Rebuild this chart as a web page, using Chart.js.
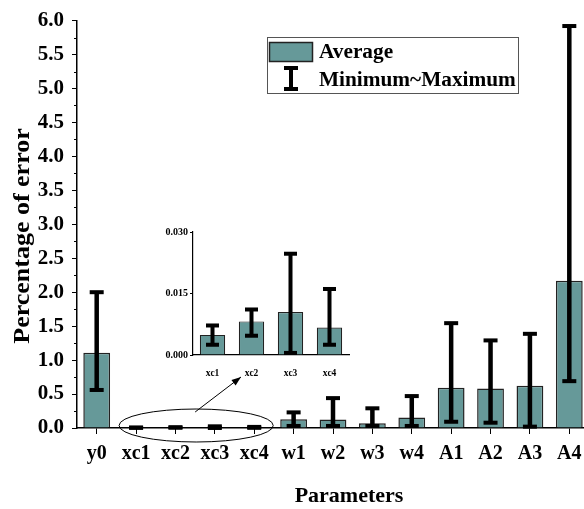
<!DOCTYPE html>
<html>
<head>
<meta charset="utf-8">
<script src="https://cdn.jsdelivr.net/npm/chart.js@4.4.1/dist/chart.umd.min.js"></script>
<style>
    html, body { margin: 0; padding: 0; background: #fff; }
    #wrap { position: relative; width: 584px; height: 509px; overflow: hidden; }
    #mainChart { position: absolute; left: 0; top: 0; }
    #insetChart { position: absolute; left: 150px; top: 220px; }
</style>
</head>
<body>
<div id="wrap">
    <canvas id="mainChart" width="600" height="509"></canvas>
    <canvas id="insetChart" width="210" height="160"></canvas>
</div>
<script>
// ============== DATA ==============
const categories = ['y0', 'xc1', 'xc2', 'xc3', 'xc4', 'w1', 'w2', 'w3', 'w4', 'A1', 'A2', 'A3', 'A4'];
const average = [1.11, 0.0049, 0.0082, 0.0105, 0.0067, 0.13, 0.125, 0.07, 0.155, 0.593, 0.583, 0.622, 2.167];
const minimum = [0.56, 0.0025, 0.0047, 0.0005, 0.0025, 0.03, 0.03, 0.03, 0.03, 0.092, 0.078, 0.02, 0.69];
const maximum = [2.0, 0.0072, 0.0111, 0.0247, 0.0161, 0.23, 0.44, 0.29, 0.47, 1.544, 1.29, 1.387, 5.92];

const yTicks = [0, 0.5, 1, 1.5, 2, 2.5, 3, 3.5, 4, 4.5, 5, 5.5, 6];

// zoomed-in part of the chart
const insetCategories = ['xc1', 'xc2', 'xc3', 'xc4'];
const insetTicks = [0, 0.015, 0.03];

const barColor = '#669999';
const serif = '"Liberation Serif", "Times New Roman", serif';

// Error bars (min ~ max) drawn through the scales
function errorBarPlugin(mins, maxs, opts) {
    return {
        id: 'errorBars',
        afterDatasetsDraw(chart) {
            const ctx = chart.ctx;
            const xs = chart.scales.x, ys = chart.scales.y;
            ctx.save();
            ctx.fillStyle = '#000';
            mins.forEach((lo, i) => {
                const x = xs.getPixelForValue(i);
                const yLo = ys.getPixelForValue(lo);
                const yHi = ys.getPixelForValue(maxs[i]);
                ctx.fillRect(x - opts.line / 2, yHi, opts.line, yLo - yHi);
                ctx.fillRect(x - opts.cap / 2, yHi - opts.capH / 2, opts.cap, opts.capH);
                ctx.fillRect(x - opts.cap / 2, yLo - opts.capH / 2, opts.cap, opts.capH);
            });
            ctx.restore();
        }
    };
}

// Minor ticks on the left axis
const minorTicks = {
    id: 'minorTicks',
    afterDraw(chart) {
        const ctx = chart.ctx;
        const ys = chart.scales.y;
        const left = chart.chartArea.left;
        ctx.save();
        ctx.strokeStyle = '#000';
        ctx.lineWidth = 1;
        for (let k = 0; k < yTicks.length - 1; k++) {
            const y = Math.round(ys.getPixelForValue((yTicks[k] + yTicks[k + 1]) / 2)) + 0.5;
            ctx.beginPath();
            ctx.moveTo(left - 3, y);
            ctx.lineTo(left, y);
            ctx.stroke();
        }
        ctx.restore();
    }
};

// stretched text, like the original figure's fonts
function wideText(ctx, text, x, y, stretch) {
    ctx.save();
    ctx.translate(x, y);
    ctx.scale(stretch, 1);
    ctx.fillText(text, 0, 0);
    ctx.restore();
}

// Legend, ellipse around xc bars, arrow and axis titles
const decorations = {
    id: 'decorations',
    afterDraw(chart) {
        const ctx = chart.ctx;
        const xs = chart.scales.x, ys = chart.scales.y;
        ctx.save();

        // legend box
        ctx.strokeStyle = '#555';
        ctx.lineWidth = 1;
        ctx.strokeRect(267.5, 37.5, 251, 56);
        ctx.fillStyle = barColor;
        ctx.fillRect(269, 42, 44, 20);
        ctx.strokeStyle = '#222';
        ctx.lineWidth = 1.5;
        ctx.strokeRect(269.5, 42.5, 43, 19);
        ctx.fillStyle = '#000';
        ctx.fillRect(289, 68, 4, 22);
        ctx.fillRect(284, 66, 14, 4);
        ctx.fillRect(284, 87, 14, 4);
        ctx.font = 'bold 20px ' + serif;
        ctx.textBaseline = 'middle';
        ctx.textAlign = 'left';
        wideText(ctx, 'Average', 319, 53, 1.065);
        wideText(ctx, 'Minimum~Maximum', 319, 81, 1.065);

        // ellipse around xc1..xc4
        const x1 = xs.getPixelForValue(1), x4 = xs.getPixelForValue(4);
        const y0 = ys.getPixelForValue(0);
        const cx = (x1 + x4) / 2;
        ctx.strokeStyle = '#000';
        ctx.lineWidth = 1;
        ctx.beginPath();
        ctx.ellipse(cx + 1, y0 - 2.5, (x4 - x1) / 2 + 18, 16.5, 0, 0, Math.PI * 2);
        ctx.stroke();

        // arrow to the inset
        const ax0 = cx, ay0 = y0 - 16, ax1 = 241, ay1 = 377;
        ctx.beginPath();
        ctx.moveTo(ax0, ay0);
        ctx.lineTo(ax1, ay1);
        ctx.stroke();
        const ang = Math.atan2(ay1 - ay0, ax1 - ax0);
        ctx.beginPath();
        ctx.moveTo(ax1, ay1);
        ctx.lineTo(ax1 - 10 * Math.cos(ang - 0.35), ay1 - 10 * Math.sin(ang - 0.35));
        ctx.lineTo(ax1 - 10 * Math.cos(ang + 0.35), ay1 - 10 * Math.sin(ang + 0.35));
        ctx.closePath();
        ctx.fill();

        // x axis title
        ctx.font = 'bold 22px ' + serif;
        ctx.textAlign = 'center';
        ctx.fillText('Parameters', 349, 496);

        // y axis title
        ctx.save();
        ctx.translate(23, 236);
        ctx.rotate(-Math.PI / 2);
        ctx.font = 'bold 23px ' + serif;
        wideText(ctx, 'Percentage of error', 0, 0, 1.13);
        ctx.restore();

        ctx.restore();
    }
};

// ============== MAIN CHART ==============
new Chart(document.getElementById('mainChart'), {
    type: 'bar',
    data: {
        labels: categories,
        datasets: [{
            label: 'Average',
            data: average,
            backgroundColor: barColor,
            borderColor: '#222',
            borderWidth: 1.5,
            categoryPercentage: 1,
            barPercentage: 0.68
        }]
    },
    options: {
        responsive: false,
        devicePixelRatio: 1,
        animation: false,
        layout: { padding: { top: 18, right: 11, left: 0, bottom: 0 } },
        plugins: { legend: { display: false }, tooltip: { enabled: false } },
        scales: {
            x: {
                offset: true,
                afterFit(scale) { scale.height = 81; },
                grid: { offset: false, drawOnChartArea: false, tickLength: 6, color: '#000', lineWidth: 1 },
                border: { color: '#000', width: 1.5 },
                ticks: { color: '#000', padding: 8, maxRotation: 0, font: { family: serif, size: 20, weight: 'bold' } }
            },
            y: {
                min: 0,
                max: 6,
                afterFit(scale) { scale.width = 77; },
                afterBuildTicks(scale) { scale.ticks = yTicks.map(v => ({ value: v })); },
                grid: { drawOnChartArea: false, tickLength: 5, color: '#000', lineWidth: 1 },
                border: { color: '#000', width: 1.5 },
                ticks: {
                    color: '#000',
                    padding: 8,
                    font: { family: serif, size: 21, weight: 'bold' },
                    callback: v => v.toFixed(1)
                }
            }
        }
    },
    plugins: [errorBarPlugin(minimum, maximum, { line: 4.5, cap: 14, capH: 4 }), minorTicks, decorations]
});

// ============== INSET CHART ==============
new Chart(document.getElementById('insetChart'), {
    type: 'bar',
    data: {
        labels: insetCategories,
        datasets: [{
            data: average.slice(1, 5),
            backgroundColor: barColor,
            borderColor: '#222',
            borderWidth: 1.2,
            categoryPercentage: 1,
            barPercentage: 0.65
        }]
    },
    options: {
        responsive: false,
        devicePixelRatio: 1,
        animation: false,
        layout: { padding: { top: 12, right: 11, left: 0, bottom: 0 } },
        plugins: { legend: { display: false }, tooltip: { enabled: false } },
        scales: {
            x: {
                offset: true,
                afterFit(scale) { scale.height = 25; },
                grid: { display: false },
                border: { color: '#000', width: 1.2 },
                ticks: { color: '#000', padding: 5, maxRotation: 0, font: { family: serif, size: 9.5, weight: 'bold' } }
            },
            y: {
                min: 0,
                max: 0.03,
                afterFit(scale) { scale.width = 43; },
                afterBuildTicks(scale) { scale.ticks = insetTicks.map(v => ({ value: v })); },
                grid: { drawOnChartArea: false, tickLength: 3, color: '#000', lineWidth: 1 },
                border: { color: '#000', width: 1.2 },
                ticks: { color: '#000', padding: 2, font: { family: serif, size: 10, weight: 'bold' }, callback: v => v.toFixed(3) }
            }
        }
    },
    plugins: [errorBarPlugin(minimum.slice(1, 5), maximum.slice(1, 5), { line: 4, cap: 13, capH: 4 })]
});
</script>
</body>
</html>
